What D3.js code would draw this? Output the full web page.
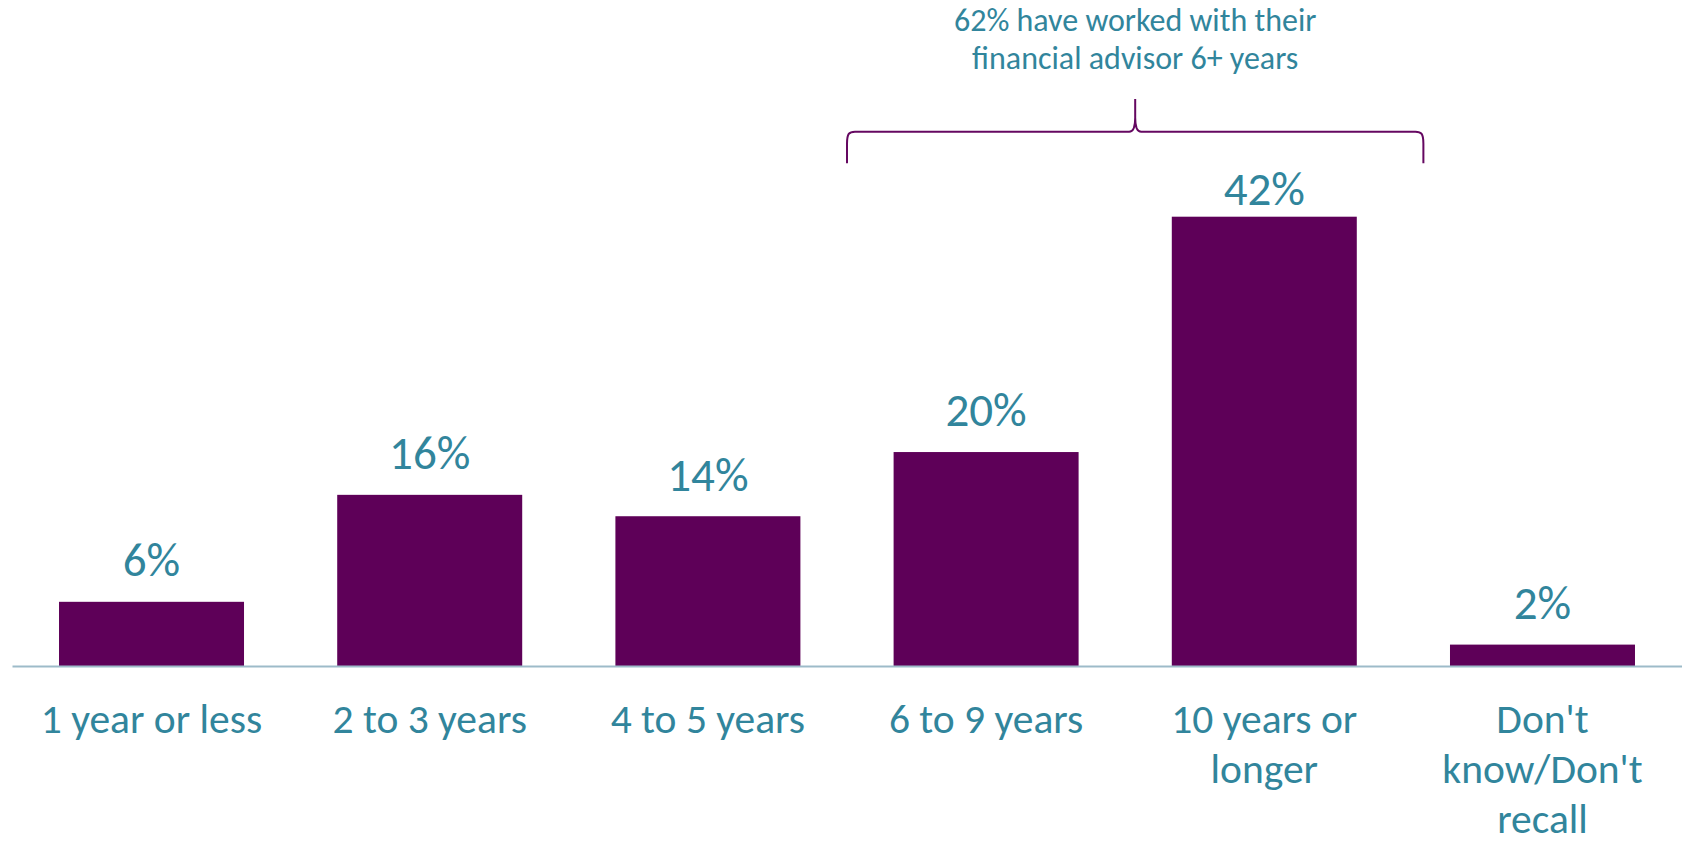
<!DOCTYPE html>
<html>
<head>
<meta charset="utf-8">
<script src="https://cdn.jsdelivr.net/npm/d3@7"></script>
<style>
  html, body { margin: 0; padding: 0; background: #fff; }
  svg { display: block; }
  text { font-family: Carlito, Calibri, Lato, "Open Sans", sans-serif; }
</style>
</head>
<body>
<svg id="chart" width="1682" height="844"></svg>
<script>
// Years with current financial advisor (share of respondents, %)
const categories = ["1 year or less", "2 to 3 years", "4 to 5 years", "6 to 9 years", "10 years or longer", "Don't know/Don't recall"];
const values = [6, 16, 14, 20, 42, 2];
const valueLabels = ["6%", "16%", "14%", "20%", "42%", "2%"];
const noteLines = ["62% have worked with their", "financial advisor 6+ years"];
const bracketFrom = "6 to 9 years";
const bracketTo = "10 years or longer";

const W = 1682, H = 844;
const barColor = "#5E0058";
const textColor = "#31859C";
const axisColor = "#9DBBC9";
const bracketColor = "#650861";

const svg = d3.select("#chart");

const x = d3.scaleBand()
  .domain(categories)
  .range([12, W])
  .paddingInner(0.335)
  .paddingOuter(0.169);

const y = d3.scaleLinear()
  .domain([0, 42])
  .range([666, 216.7]);

// Bars
svg.append("g")
  .selectAll("rect")
  .data(values)
  .join("rect")
  .attr("x", (d, i) => x(categories[i]))
  .attr("y", d => y(d))
  .attr("width", x.bandwidth())
  .attr("height", d => y(0) - y(d))
  .attr("fill", barColor);

// Baseline axis (no ticks)
const xAxis = d3.axisBottom(x).tickSize(0).tickFormat("");
const axisG = svg.append("g")
  .attr("transform", `translate(0,${y(0)})`)
  .call(xAxis);
axisG.select(".domain").attr("stroke", axisColor).attr("stroke-width", 2);

// Category labels, wrapped to the band step
function wrapLines(text, width, ctx) {
  const words = text.split(" ");
  const lines = [];
  let line = "";
  for (const w of words) {
    const test = line ? line + " " + w : w;
    if (line && ctx.measureText(test).width > width) {
      lines.push(line);
      line = w;
    } else {
      line = test;
    }
  }
  if (line) lines.push(line);
  return lines;
}
const catSize = 41.5;
const canvas = document.createElement("canvas");
const ctx = canvas.getContext("2d");
ctx.font = `${catSize}px Carlito, Calibri, Lato, sans-serif`;

const catG = svg.append("g");
categories.forEach(c => {
  const lines = wrapLines(c, x.step() * 0.95, ctx);
  const t = catG.append("text")
    .attr("x", x(c) + x.bandwidth() / 2)
    .attr("y", 733)
    .attr("text-anchor", "middle")
    .attr("fill", textColor)
    .attr("font-size", catSize);
  lines.forEach((ln, k) => {
    t.append("tspan")
      .attr("x", x(c) + x.bandwidth() / 2)
      .attr("dy", k === 0 ? 0 : 50)
      .text(ln);
  });
});

// Value labels above bars, kept below the bracket
svg.append("g")
  .selectAll("text")
  .data(values)
  .join("text")
  .attr("x", (d, i) => x(categories[i]) + x.bandwidth() / 2)
  .attr("y", d => Math.max(y(d) - 25.6, 204.5))
  .attr("text-anchor", "middle")
  .attr("fill", textColor)
  .attr("font-size", 47)
  .text((d, i) => valueLabels[i]);

// Curly bracket spanning the 6+ year groups
const gap = x.step() - x.bandwidth();
const bx0 = x(bracketFrom) - gap / 2;
const bx1 = x(bracketTo) + x.bandwidth() + gap / 2 + 20;
const bmid = (bx0 + bx1) / 2;
const hy = 131.7, by = 163.3, peak = 99;
const bracket = d3.path();
bracket.moveTo(bx0, by);
bracket.lineTo(bx0, hy + 12);
bracket.bezierCurveTo(bx0, hy + 2, bx0 + 2, hy, bx0 + 8, hy);
bracket.lineTo(bmid - 6, hy);
bracket.bezierCurveTo(bmid - 2, hy, bmid, hy - 4, bmid, hy - 14);
bracket.lineTo(bmid, peak);
bracket.moveTo(bmid, hy - 14);
bracket.bezierCurveTo(bmid, hy - 4, bmid + 2, hy, bmid + 6, hy);
bracket.lineTo(bx1 - 8, hy);
bracket.bezierCurveTo(bx1 - 2, hy, bx1, hy + 2, bx1, hy + 12);
bracket.lineTo(bx1, by);
svg.append("path")
  .attr("d", bracket.toString())
  .attr("fill", "none")
  .attr("stroke", bracketColor)
  .attr("stroke-width", 2);

// Annotation text
const note = svg.append("text")
  .attr("x", bmid)
  .attr("y", 31)
  .attr("text-anchor", "middle")
  .attr("fill", textColor)
  .attr("font-size", 32);
noteLines.forEach((ln, k) => {
  note.append("tspan")
    .attr("x", bmid)
    .attr("dy", k === 0 ? 0 : 38)
    .text(ln);
});
</script>
</body>
</html>
